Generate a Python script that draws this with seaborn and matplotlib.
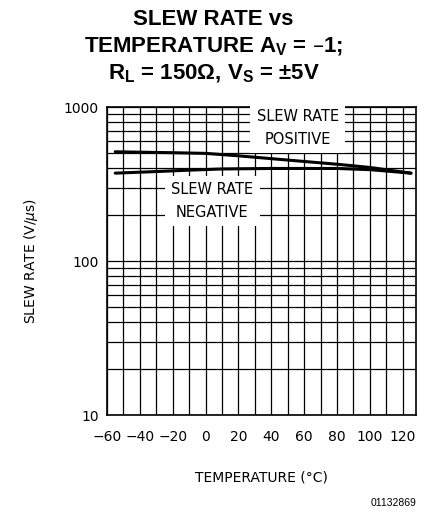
import numpy as np
import pandas as pd
import matplotlib
matplotlib.use("Agg")
import matplotlib.pyplot as plt
import seaborn as sns
from matplotlib.ticker import FixedLocator, NullFormatter

# values
temp_pos = [-55, -20, 0, 20, 40, 60, 80, 100, 125]
slew_pos = [512, 505, 500, 482, 462, 443, 425, 405, 372]
temp_neg = [-55, -30, -10, 10, 40, 80, 100, 125]
slew_neg = [372, 381, 389, 396, 399, 399, 392, 372]

x_ticks = [-60, -40, -20, 0, 20, 40, 60, 80, 100, 120]
y_ticks = [10, 100, 1000]

df = pd.concat([
    pd.DataFrame({"temp": temp_pos, "slew": slew_pos, "dir": "POSITIVE"}),
    pd.DataFrame({"temp": temp_neg, "slew": slew_neg, "dir": "NEGATIVE"}),
])

sns.set_style("white")
plt.rcParams["font.family"] = ["DejaVu Sans"]
plt.rcParams["font.sans-serif"] = ["DejaVu Sans"]
plt.rcParams["text.color"] = "black"
plt.rcParams["axes.labelcolor"] = "black"
plt.rcParams["xtick.color"] = "black"
plt.rcParams["ytick.color"] = "black"

lfont = dict(family="DejaVu Sans", fontsize=10)

fig = plt.figure(figsize=(4.27, 5.14), dpi=100)
ax = fig.add_axes([0.2506, 0.1926, 0.7234, 0.5992])

sns.lineplot(data=df, x="temp", y="slew", units="dir", estimator=None,
             color="black", linewidth=2.2, ax=ax, legend=False, sort=False)

ax.set_yscale("log")
ax.set_ylim(10, 1000)
ax.set_xlim(-60, 128)
ax.set_xticks(x_ticks)
ax.set_xticklabels([str(t).replace("-", "\u2212") for t in x_ticks], **lfont)
ax.xaxis.set_minor_locator(FixedLocator(np.arange(-50, 130, 20)))
ax.set_yticks(y_ticks)
ax.set_yticklabels([str(t) for t in y_ticks], **lfont)
ax.yaxis.set_minor_formatter(NullFormatter())
ax.grid(True, which="both", color="black", linewidth=0.9)
ax.tick_params(which="both", length=0, pad=11)
ax.tick_params(axis="y", pad=6)
for s in ax.spines.values():
    s.set_color("black")
    s.set_linewidth(1.2)

ax.set_xlabel("TEMPERATURE (\u00b0C)", labelpad=19, **lfont)
ax.set_ylabel("SLEW RATE (V/$\\mu$s)", labelpad=17, **lfont)

box = dict(facecolor="white", edgecolor="none", boxstyle="square,pad=0.45")
bfont = dict(family="DejaVu Sans", fontsize=10.5)
ax.text(56, 730, "SLEW RATE\nPOSITIVE", ha="center", va="center",
        linespacing=1.6, bbox=box, **bfont)
ax.text(4, 245, "SLEW RATE\nNEGATIVE", ha="center", va="center",
        linespacing=1.6, bbox=box, **bfont)

tfont = dict(family=["Liberation Sans", "DejaVu Sans"], weight="bold", fontsize=16)
fig.text(0.5, 0.963, "SLEW RATE vs", ha="center", va="center", **tfont)
fig.text(0.5, 0.909, "TEMPERATURE A$_\\mathregular{V}$ = \u20131;", ha="center", va="center", **tfont)
fig.text(0.5, 0.856, "R$_\\mathregular{L}$ = 150\u03a9, V$_\\mathregular{S}$ = \u00b15V", ha="center", va="center", **tfont)
fig.text(0.975, 0.012, "01132869", ha="right", va="bottom",
         family=["Liberation Sans", "DejaVu Sans"], fontsize=7.5)

fig.savefig("out.png", dpi=100)
